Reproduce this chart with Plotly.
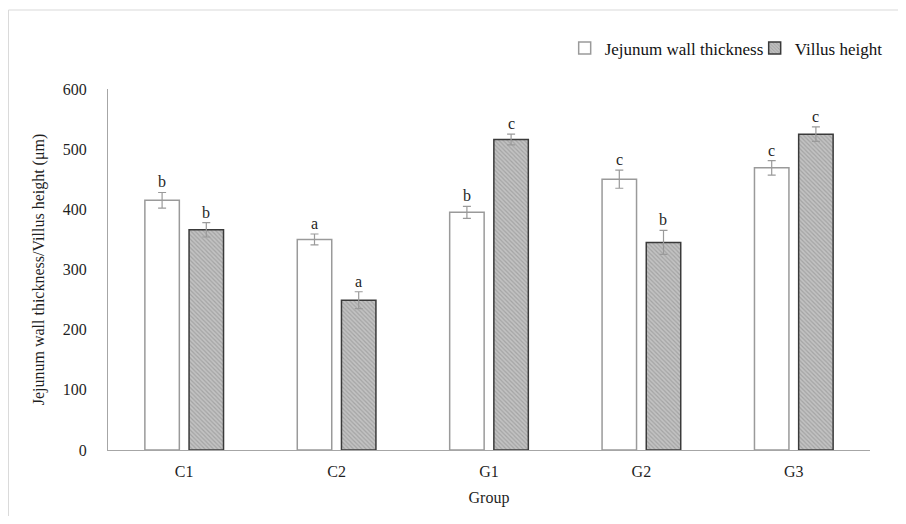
import plotly.graph_objects as go

groups = ["C1", "C2", "G1", "G2", "G3"]
wall = [415, 350, 395, 450, 469]
wall_err = [13, 9, 10, 15, 12]
villus = [366, 249, 516, 345, 525]
villus_err = [12, 14, 9, 20, 12]
wall_letters = ["b", "a", "b", "c", "c"]
villus_letters = ["b", "a", "c", "b", "c"]

FONT = "Liberation Serif"
TXT = "#1f1f1f"

fig = go.Figure()
fig.add_trace(go.Bar(
    name="Jejunum wall thickness", x=groups, y=wall,
    marker=dict(color="white", line=dict(color="#9a9a9a", width=1.5)),
    error_y=dict(type="data", array=wall_err, color="#9a9a9a", thickness=1.2, width=4),
))
fig.add_trace(go.Bar(
    name="Villus height", x=groups, y=villus,
    marker=dict(color="#b8b8b8", line=dict(color="#3a3a3a", width=1.5),
                pattern=dict(shape="\\", size=3, solidity=0.4, fgcolor="#858585", bgcolor="#c2c2c2")),
    error_y=dict(type="data", array=villus_err, color="#9a9a9a", thickness=1.2, width=4),
))

for g, v, e, t in zip(groups, wall, wall_err, wall_letters):
    fig.add_annotation(x=g, y=v + e, text=t, showarrow=False, xshift=-22, yshift=0,
                       yanchor="bottom", font=dict(family=FONT, size=16, color=TXT))
for g, v, e, t in zip(groups, villus, villus_err, villus_letters):
    fig.add_annotation(x=g, y=v + e, text=t, showarrow=False, xshift=22, yshift=0,
                       yanchor="bottom", font=dict(family=FONT, size=16, color=TXT))

fig.add_shape(type="rect", xref="paper", yref="paper",
              x0=-0.1306, x1=1.055, y0=-0.2, y1=1.2188,
              line=dict(color="#d9d9d9", width=1), fillcolor="rgba(0,0,0,0)", layer="below")

fig.update_layout(
    width=890, height=508,
    margin=dict(l=100, r=28, t=81, b=66, autoexpand=False),
    paper_bgcolor="white", plot_bgcolor="white",
    barmode="group", bargap=0.42, bargroupgap=0.22,
    font=dict(family=FONT, size=16, color=TXT),
    showlegend=True,
    legend=dict(orientation="h", x=1.098, xanchor="right", y=1.112, yanchor="middle",
                font=dict(family=FONT, size=17, color="#111"), traceorder="normal",
                itemwidth=30, entrywidth=145, bgcolor="rgba(0,0,0,0)"),
    xaxis=dict(showline=True, linecolor="#a6a6a6", linewidth=1.2, showgrid=False,
               ticks="", title=dict(text="Group", font=dict(family=FONT, size=16), standoff=12),
               tickfont=dict(family=FONT, size=16), ticklabelstandoff=7),
    yaxis=dict(range=[0, 600], dtick=100, showline=True, linecolor="#a6a6a6", linewidth=1.2,
               showgrid=False, ticks="", zeroline=False,
               tickfont=dict(family=FONT, size=16), ticklabelstandoff=17,
               title=dict(text="Jejunum wall thickness/Villus height (μm)",
                          font=dict(family=FONT, size=16), standoff=14)),
)

fig.write_html("out.html")
